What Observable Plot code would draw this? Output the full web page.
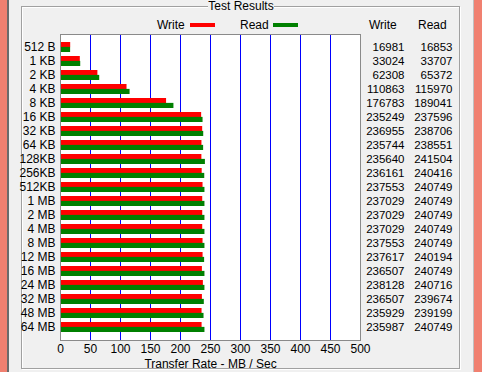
<!DOCTYPE html>
<html>
<head>
<meta charset="utf-8">
<script src="https://cdn.jsdelivr.net/npm/d3@7"></script>
<script src="https://cdn.jsdelivr.net/npm/@observablehq/plot@0.6"></script>
<style>
  html, body { margin: 0; padding: 0; }
  body { width: 482px; height: 372px; overflow: hidden; font-family: "Liberation Sans", Arial, sans-serif; font-size: 11px; color: #000; }
  #win { position: relative; width: 482px; height: 372px; background: #f0f0f0; }
  .salL { position: absolute; left: 0; top: 0; width: 7px; height: 372px; background: #f08070; border-right: 2px solid #6b6b6b; }
  .salR { position: absolute; right: 0; top: 0; width: 8px; height: 372px; background: #f08070; border-left: 1px solid #c0c0c0; }
  .grp { position: absolute; left: 21px; top: 6px; width: 437px; height: 361px; border: 1px solid #a0a0a0; box-shadow: 1px 1px 0 #fff, inset 1px 1px 0 #fff; }
  .title { position: absolute; top: -1px; left: 208px; width: 66px; text-align: center; background: #f0f0f0; font-size: 12px; line-height: 14px; white-space: nowrap; }
  .lbl { position: absolute; font-size: 12px; line-height: 14px; white-space: nowrap; }
  .sw { position: absolute; height: 4px; width: 25px; }
  #chart { position: absolute; left: 0; top: 0; }
</style>
</head>
<body>
<div id="win">
  <div class="salL"></div>
  <div class="salR"></div>
  <div class="grp"></div>
  <div class="title">Test Results</div>
  <div class="lbl" style="left:157px; top:18px;">Write</div>
  <div class="sw" style="left:190px; top:23px; background:#ff0000;"></div>
  <div class="lbl" style="left:240px; top:18px;">Read</div>
  <div class="sw" style="left:273px; top:23px; background:#008000;"></div>
  <div class="lbl" style="left:369px; top:18px;">Write</div>
  <div class="lbl" style="left:418px; top:18px;">Read</div>
  <div id="chart"></div>
</div>
<script>
const sizes = ["512 B","1 KB","2 KB","4 KB","8 KB","16 KB","32 KB","64 KB","128KB","256KB","512KB","1 MB","2 MB","4 MB","8 MB","12 MB","16 MB","24 MB","32 MB","48 MB","64 MB"];
const writeKB = [16981,33024,62308,110863,176783,235249,236955,235744,235640,236161,237553,237029,237029,237029,237553,237617,236507,238128,236507,235929,235987];
const readKB  = [16853,33707,65372,115970,189041,237596,238706,238551,241504,240416,240749,240749,240749,240749,240749,240194,240749,240716,239674,239199,240749];
const gridTicks = [50,100,150,200,250,300,350,400,450];
const xTicks = [0,50,100,150,200,250,300,350,400,450,500];

const data = sizes.map((s, i) => ({size: s, write: writeKB[i] / 1000, read: readKB[i] / 1000, writeKB: writeKB[i], readKB: readKB[i]}));

const step = 306 / (21 - 0.32 + 2 * 0.32);
const bw = step * 0.68;

const chart = Plot.plot({
  width: 482,
  height: 372,
  marginLeft: 60,
  marginRight: 122,
  marginTop: 34,
  marginBottom: 32,
  style: {background: "transparent", fontFamily: "'Liberation Sans', Arial, sans-serif", fontSize: "12px", color: "#000", overflow: "visible"},
  x: {domain: [0, 500]},
  y: {domain: sizes, paddingInner: 0.32, paddingOuter: 0.32},
  marks: [
    Plot.frame({fill: "white"}),
    Plot.ruleX(gridTicks, {stroke: "#0000ff", strokeWidth: 1}),
    Plot.barX(data, {x: "write", y: "size", fill: "#ff0000", insetBottom: bw / 2}),
    Plot.barX(data, {x: "read", y: "size", fill: "#008000", insetTop: bw / 2}),
    Plot.frame({stroke: "#8a8a8a"}),
    Plot.axisY({tickSize: 0, tickPadding: 5, fontSize: 12, label: null}),
    Plot.axisX({ticks: xTicks, tickSize: 0, tickPadding: 4, fontSize: 12, label: "Transfer Rate - MB / Sec", labelAnchor: "center", labelArrow: "none", labelOffset: 27}),
    Plot.text(data, {y: "size", text: d => String(d.writeKB), frameAnchor: "right", dx: 44, textAnchor: "end", fontSize: 11.5}),
    Plot.text(data, {y: "size", text: d => String(d.readKB), frameAnchor: "right", dx: 92, textAnchor: "end", fontSize: 11.5})
  ]
});
document.getElementById("chart").appendChild(chart);
</script>
</body>
</html>
